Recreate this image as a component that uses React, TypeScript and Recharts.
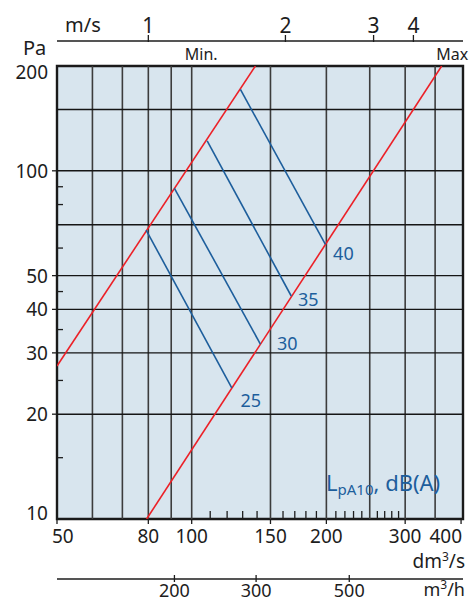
import {
  LineChart,
  Line,
  XAxis,
  YAxis,
  ReferenceLine,
  ReferenceArea,
  LabelList,
} from "recharts";

// flow in dm3/s, pressure in Pa
const flowTicks = [50, 80, 100, 150, 200, 300, 400];
const flowMinorTicks = [110, 120, 130, 140, 160, 170, 180, 190, 210, 220, 230, 240, 260, 270, 280, 290];
const flowGrid = [60, 70, 80, 90, 100, 150, 200, 250, 300, 350];
const pressureTicks = [10, 20, 30, 40, 50, 100, 200];
const pressureMinorTicks = [15, 25, 35, 45, 60, 80, 90];
const pressureGrid = [20, 30, 40, 50, 70, 100, 150];

// top velocity scale (positions read as flow) and bottom m3/h scale
const speedTickFlows = [80, 162, 255, 313];
const speedLabels = ["1", "2", "3", "4"];
const m3hTickFlows = [91.5, 139.3, 225];
const m3hLabels = ["200", "300", "500"];
const limitFlows = [105, 382];
const limitLabels = ["Min.", "Max"];

const minLine = [
  { q: 50, p: 27.5 },
  { q: 138.8, p: 200 },
];
const maxLine = [
  { q: 79.3, p: 10 },
  { q: 362, p: 200 },
];
const sound25 = [
  { q: 79.1, p: 67.6 },
  { q: 122.9, p: 23.8 },
];
const sound30 = [
  { q: 91.5, p: 89.1 },
  { q: 142.4, p: 31.8 },
];
const sound35 = [
  { q: 108.3, p: 121.8 },
  { q: 166.9, p: 43.7 },
];
const sound40 = [
  { q: 128.5, p: 171.3 },
  { q: 199, p: 61.5 },
];

const FONT = '"Noto Sans", sans-serif';
const INK = "#1d1d1d";
const BLUE = "#1d5e9c";
const RED = "#ec2027";
const DOMAIN_Q: [number, number] = [50, 404];
const DOMAIN_P: [number, number] = [10, 200];

function FlowTick({ x, y, payload }: any) {
  const v = payload.value;
  if (flowMinorTicks.includes(v)) {
    return <line x1={x} x2={x} y1={y - 8} y2={y} stroke={INK} strokeWidth={1.3} />;
  }
  const first = v === flowTicks[0];
  const last = v === flowTicks[flowTicks.length - 1];
  return (
    <g>
      <line x1={x} x2={x} y1={y} y2={y + 5} stroke={INK} strokeWidth={1.3} />
      <text
        x={last ? x + 1 : first ? x - 5 : x}
        y={y + 24}
        textAnchor={last ? "end" : first ? "start" : "middle"}
        fontFamily={FONT}
        fontSize={19}
        fill={INK}
      >
        {v}
      </text>
    </g>
  );
}

function PressureTick({ x, y, payload }: any) {
  const v = payload.value;
  if (pressureMinorTicks.includes(v)) {
    return <line x1={x} x2={x + 6} y1={y} y2={y} stroke={INK} strokeWidth={1.3} />;
  }
  const shift = v === 200 ? 6 : v === 10 ? -6 : 0;
  return (
    <g>
      {shift === 0 && <line x1={x - 5} x2={x} y1={y} y2={y} stroke={INK} strokeWidth={1.3} />}
      <text
        x={x - 9}
        y={y + 7 + shift}
        textAnchor="end"
        fontFamily={FONT}
        fontSize={19}
        fill={INK}
      >
        {v}
      </text>
    </g>
  );
}

function SpeedTick({ x, y, payload, index }: any) {
  return (
    <g>
      <line x1={x} x2={x} y1={y - 6} y2={y + 1} stroke={INK} strokeWidth={1.3} />
      <text x={x} y={y - 8} textAnchor="middle" fontFamily={FONT} fontSize={21} fill={INK}>
        {speedLabels[speedTickFlows.indexOf(payload.value)] ?? speedLabels[index]}
      </text>
    </g>
  );
}

function LimitTick({ x, y, payload }: any) {
  return (
    <text x={x} y={y - 6} textAnchor="middle" fontFamily={FONT} fontSize={16} fill={INK}>
      {limitLabels[limitFlows.indexOf(payload.value)]}
    </text>
  );
}

function M3hTick({ x, y, payload }: any) {
  return (
    <g>
      <line x1={x} x2={x} y1={y - 4} y2={y + 3} stroke={INK} strokeWidth={1.3} />
      <text x={x} y={y + 18} textAnchor="middle" fontFamily={FONT} fontSize={18} fill={INK}>
        {m3hLabels[m3hTickFlows.indexOf(payload.value)]}
      </text>
    </g>
  );
}

const soundLabel = (text: string, dx: number, dy: number) => (props: any) => {
  if (props.index !== 1) return null;
  return (
    <text
      x={props.x + dx}
      y={props.y + dy}
      textAnchor="middle"
      fontFamily={FONT}
      fontSize={18}
      fill={BLUE}
    >
      {text}
    </text>
  );
};

const soundLines = [
  { data: sound25, text: "25", dx: 19, dy: 19 },
  { data: sound30, text: "30", dx: 27, dy: 6 },
  { data: sound35, text: "35", dx: 17, dy: 10 },
  { data: sound40, text: "40", dx: 18, dy: 16 },
];

const axisData = [...minLine, ...maxLine];

export default function App() {
  return (
    <div style={{ position: "absolute", left: 0, top: 0, width: 471, height: 602, background: "#fff" }}>
      <LineChart width={471} height={602} data={axisData} margin={{ top: 0, right: 8, bottom: 0, left: 0 }}>
        <XAxis
          xAxisId="limits"
          dataKey="q"
          orientation="top"
          type="number"
          scale="log"
          domain={DOMAIN_Q}
          allowDataOverflow
          ticks={limitFlows}
          interval={0}
          height={25}
          axisLine={false}
          tickLine={false}
          tickSize={0}
          tickMargin={0}
          tick={<LimitTick />}
        />
        <XAxis
          xAxisId="speed"
          dataKey="q"
          orientation="top"
          type="number"
          scale="log"
          domain={DOMAIN_Q}
          allowDataOverflow
          ticks={speedTickFlows}
          interval={0}
          height={41}
          axisLine={{ stroke: INK, strokeWidth: 1.3 }}
          tickLine={false}
          tickSize={0}
          tickMargin={0}
          tick={<SpeedTick />}
          label={(p: any) => (
            <text
              x={p.viewBox.x + 8}
              y={p.viewBox.y + p.viewBox.height - 9}
              fontFamily={FONT}
              fontSize={20}
              fill={INK}
            >
              m/s
            </text>
          )}
        />
        <XAxis
          xAxisId="flow"
          dataKey="q"
          orientation="bottom"
          type="number"
          scale="log"
          domain={DOMAIN_Q}
          allowDataOverflow
          ticks={[...flowTicks, ...flowMinorTicks]}
          interval={0}
          height={60}
          axisLine={false}
          tickLine={false}
          tickSize={0}
          tickMargin={0}
          tick={<FlowTick />}
          label={(p: any) => (
            <text
              x={p.viewBox.x + p.viewBox.width + 2}
              y={p.viewBox.y + 49}
              textAnchor="end"
              fontFamily={FONT}
              fontSize={19}
              fill={INK}
            >
              dm<tspan dy={-7} fontSize={12}>3</tspan>
              <tspan dy={7}>/s</tspan>
            </text>
          )}
        />
        <XAxis
          xAxisId="m3h"
          dataKey="q"
          orientation="bottom"
          type="number"
          scale="log"
          domain={DOMAIN_Q}
          allowDataOverflow
          ticks={m3hTickFlows}
          interval={0}
          height={23}
          axisLine={{ stroke: INK, strokeWidth: 1.3 }}
          tickLine={false}
          tickSize={0}
          tickMargin={0}
          tick={<M3hTick />}
          label={(p: any) => (
            <text
              x={p.viewBox.x + p.viewBox.width + 2}
              y={p.viewBox.y + 17}
              textAnchor="end"
              fontFamily={FONT}
              fontSize={18}
              fill={INK}
            >
              m<tspan dy={-7} fontSize={12}>3</tspan>
              <tspan dy={7}>/h</tspan>
            </text>
          )}
        />
        <YAxis
          yAxisId="p"
          dataKey="p"
          type="number"
          scale="log"
          domain={DOMAIN_P}
          allowDataOverflow
          ticks={[...pressureTicks, ...pressureMinorTicks]}
          interval={0}
          width={57}
          axisLine={false}
          tickLine={false}
          tickSize={0}
          tickMargin={0}
          tick={<PressureTick />}
          label={(p: any) => (
            <text
              x={p.viewBox.x + 23}
              y={p.viewBox.y - 11}
              fontFamily={FONT}
              fontSize={20}
              fill={INK}
            >
              Pa
            </text>
          )}
        />

        <ReferenceArea
          xAxisId="flow"
          yAxisId="p"
          x1={DOMAIN_Q[0]}
          x2={DOMAIN_Q[1]}
          y1={DOMAIN_P[0]}
          y2={DOMAIN_P[1]}
          fill="#d8e5ee"
          fillOpacity={1}
          stroke="none"
        />
        {flowGrid.map((q) => (
          <ReferenceLine key={"v" + q} xAxisId="flow" yAxisId="p" x={q} stroke="#3c3c3c" strokeWidth={1.6} />
        ))}
        {pressureGrid.map((p) => (
          <ReferenceLine key={"h" + p} xAxisId="flow" yAxisId="p" y={p} stroke="#151515" strokeWidth={1.4} />
        ))}

        <Line xAxisId="flow" yAxisId="p" data={minLine} dataKey="p" stroke={RED} strokeWidth={1.6} dot={false} isAnimationActive={false} />
        <Line xAxisId="flow" yAxisId="p" data={maxLine} dataKey="p" stroke={RED} strokeWidth={1.6} dot={false} isAnimationActive={false} />
        {soundLines.map((s) => (
          <Line
            key={s.text}
            xAxisId="flow"
            yAxisId="p"
            data={s.data}
            dataKey="p"
            stroke={BLUE}
            strokeWidth={1.6}
            dot={false}
            isAnimationActive={false}
          >
            <LabelList dataKey="p" content={soundLabel(s.text, s.dx, s.dy)} />
          </Line>
        ))}

        <ReferenceArea
          xAxisId="flow"
          yAxisId="p"
          x1={DOMAIN_Q[0]}
          x2={DOMAIN_Q[1]}
          y1={DOMAIN_P[0]}
          y2={DOMAIN_P[1]}
          fill="none"
          stroke="#1a1a1a"
          strokeWidth={2.4}
        />
      </LineChart>
      <div
        style={{
          position: "absolute",
          left: 326,
          top: 467,
          fontFamily: FONT,
          fontSize: 22,
          lineHeight: "30px",
          color: BLUE,
          whiteSpace: "nowrap",
        }}
      >
        L<sub style={{ fontSize: 15, verticalAlign: "-4px" }}>pA10</sub>, dB(A)
      </div>
    </div>
  );
}
